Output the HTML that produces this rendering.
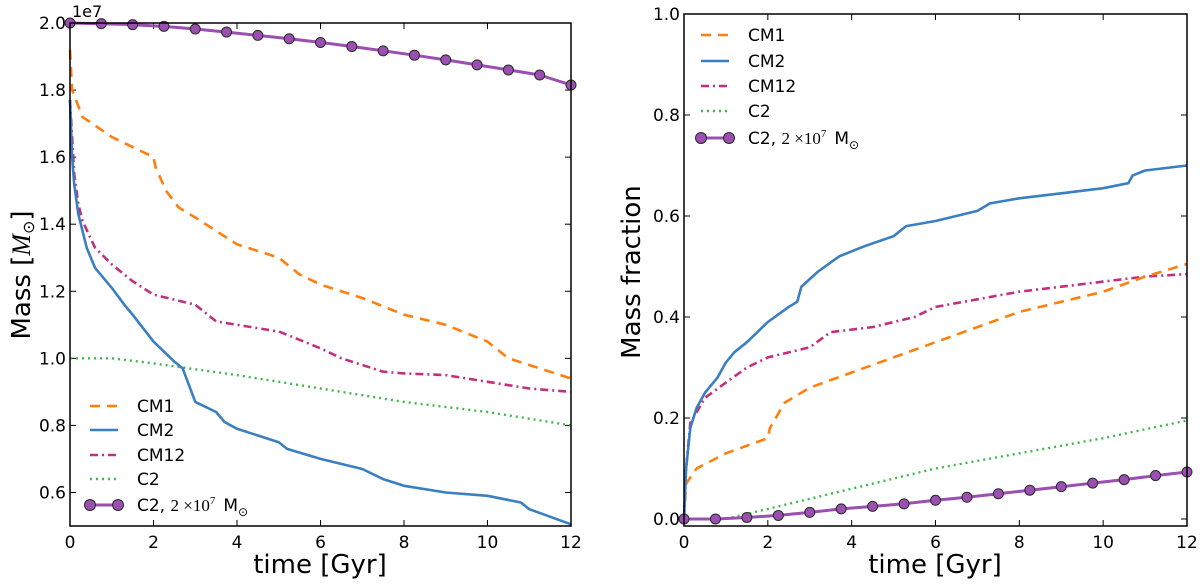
<!DOCTYPE html>
<html><head><meta charset="utf-8"><style>
body{margin:0;background:#fff;font-family:"DejaVu Sans","Liberation Sans",sans-serif}
svg text{font-family:"DejaVu Sans","Liberation Sans",sans-serif}
</style></head><body>
<svg id="c" width="1200" height="583" xmlns="http://www.w3.org/2000/svg"></svg>
<script>
const ticksX=[0,2,4,6,8,10,12];
const ticksL=[0.6,0.8,1.0,1.2,1.4,1.6,1.8,2.0];
const ticksR=[0.0,0.2,0.4,0.6,0.8,1.0];
const markT=[0,0.75,1.5,2.25,3,3.75,4.5,5.25,6,6.75,7.5,8.25,9,9.75,10.5,11.25,12];
// Left panel (Mass, 1e7)
const lCM1t=[0,0.05,0.3,1,2,2.05,2.3,2.6,3,3.5,4,5,5.5,6,7,8,9,10,10.5,11,12];
const lCM1v=[1.92,1.8,1.72,1.66,1.6,1.57,1.5,1.45,1.42,1.38,1.34,1.3,1.25,1.22,1.18,1.13,1.1,1.05,1.0,0.98,0.94];
const lCM2t=[0,0.05,0.1,0.2,0.4,0.6,1,1.3,1.5,2,2.5,2.7,3,3.5,3.7,4,4.5,5,5.2,6,7,7.5,8,9,10,10.8,11,12];
const lCM2v=[1.77,1.6,1.52,1.43,1.33,1.27,1.21,1.16,1.13,1.05,0.99,0.97,0.87,0.84,0.81,0.79,0.77,0.75,0.73,0.7,0.67,0.64,0.62,0.6,0.59,0.57,0.55,0.505];
const lCM12t=[0,0.1,0.2,0.3,0.6,1,1.5,2,3,3.5,4.5,5,6,6.5,7,7.5,8,9,10,11,12];
const lCM12v=[1.77,1.55,1.46,1.41,1.33,1.28,1.23,1.19,1.16,1.11,1.09,1.08,1.03,1.0,0.98,0.96,0.955,0.95,0.93,0.91,0.9];
const lC2t=[0,1,2,4,6,8,10,12];
const lC2v=[1.0,1.0,0.985,0.95,0.91,0.87,0.84,0.8];
const lBigV=[2.0,1.998,1.995,1.99,1.982,1.973,1.963,1.953,1.942,1.93,1.917,1.904,1.89,1.875,1.86,1.845,1.815];
// Right panel (mass fraction)
const rCM1t=[0,0.05,0.3,1,2,2.05,2.4,3,4,5,6,7,8,9,10,11,12];
const rCM1v=[0,0.07,0.1,0.13,0.16,0.18,0.23,0.26,0.29,0.32,0.35,0.38,0.41,0.43,0.45,0.48,0.505];
const rCM2t=[0,0.05,0.15,0.3,0.5,0.8,1,1.2,1.5,2,2.5,2.7,2.8,3.2,3.7,4.3,5,5.3,6,7,7.3,8,9,10,10.6,10.7,11,12];
const rCM2v=[0,0.1,0.18,0.22,0.25,0.28,0.31,0.33,0.35,0.39,0.42,0.43,0.46,0.49,0.52,0.54,0.56,0.58,0.59,0.61,0.625,0.635,0.645,0.655,0.665,0.68,0.69,0.7];
const rCM12t=[0,0.05,0.15,0.5,1,1.5,2,3,3.5,4.5,5.5,6,7,8,9,10,11,12];
const rCM12v=[0,0.1,0.19,0.24,0.27,0.3,0.32,0.34,0.37,0.38,0.4,0.42,0.435,0.45,0.46,0.47,0.48,0.485];
const rC2t=[0,1,2,4,6,8,10,12];
const rC2v=[0,0,0.02,0.06,0.1,0.13,0.16,0.195];
const rBigV=[0,0,0.003,0.007,0.013,0.02,0.025,0.03,0.037,0.043,0.05,0.057,0.064,0.071,0.078,0.086,0.093];

const NS="http://www.w3.org/2000/svg",svg=document.getElementById('c');
function mk(tag,at,parent){const e=document.createElementNS(NS,tag);for(const k in at)e.setAttribute(k,at[k]);(parent||svg).appendChild(e);return e;}
const L={x0:70,x1:571,y0:526,y1:23,vmin:0.5,vmax:2.0};
const R={x0:684,x1:1187,y0:526,y1:14,vmin:-0.0139,vmax:1.0};
function sx(p,t){return p.x0+(t/12)*(p.x1-p.x0);}
function sy(p,v){return p.y0-(v-p.vmin)/(p.vmax-p.vmin)*(p.y0-p.y1);}
const styles={
 cm1:{stroke:'#ff7f0e',dash:'10,7',w:2.6},
 cm2:{stroke:'#3a7fc1',dash:'',w:2.6},
 cm12:{stroke:'#c0307f',dash:'8,4,2,4',w:2.6},
 c2:{stroke:'#3cb84a',dash:'2,4',w:2.4},
 big:{stroke:'#9b4fb0',dash:'',w:3}
};
function line(p,ts,vs,st,name){
 const d=ts.map((t,i)=>(i?'L':'M')+sx(p,t).toFixed(1)+','+sy(p,vs[i]).toFixed(1)).join('');
 const e=mk('path',{d:d,fill:'none',stroke:st.stroke,'stroke-width':st.w,'stroke-dasharray':st.dash,'stroke-linejoin':'round'});
 
 
}
function markers(p,vs,name){
 const g=mk('g',{});
 
 
 vs.forEach((v,i)=>{mk('circle',{cx:sx(p,markT[i]),cy:sy(p,v),r:5,fill:'#9b4fb0',stroke:'#2a2a2a','stroke-width':1},g);});
}
function axes(p,ticksY,fmt,prefix){
 const g=mk('g',{});
 
 
 ticksX.forEach(t=>{const x=sx(p,t);
  mk('line',{x1:x,x2:x,y1:p.y0,y2:p.y0-6,stroke:'#000'},g);mk('line',{x1:x,x2:x,y1:p.y1,y2:p.y1+6,stroke:'#000'},g);
  const tx=mk('text',{x:x,y:p.y0+22,'text-anchor':'middle','font-size':17},g);tx.textContent=t;});
 ticksY.forEach(v=>{const y=sy(p,v);
  mk('line',{x1:p.x0,x2:p.x0+6,y1:y,y2:y,stroke:'#000'},g);mk('line',{x1:p.x1,x2:p.x1-6,y1:y,y2:y,stroke:'#000'},g);
  const tx=mk('text',{x:p.x0-4,y:y+6,'text-anchor':'end','font-size':17},g);tx.textContent=fmt(v);});
}
function frame(p,prefix){const r=mk('rect',{x:p.x0,y:p.y1,width:p.x1-p.x0,height:p.y0-p.y1,fill:'none',stroke:'#000','stroke-width':1.5});
 }

axes(L,ticksL,v=>v.toFixed(1),'left');
axes(R,ticksR,v=>v.toFixed(1),'right');
line(L,lC2t,lC2v,styles.c2,'left-c2-line');
line(L,lCM12t,lCM12v,styles.cm12,'left-cm12-line');
line(L,lCM1t,lCM1v,styles.cm1,'left-cm1-line');
line(L,lCM2t,lCM2v,styles.cm2,'left-cm2-line');
line(L,markT,lBigV,styles.big,'left-c2-big-line');
markers(L,lBigV,'left-c2-big-markers');
line(R,rC2t,rC2v,styles.c2,'right-c2-line');
line(R,rCM12t,rCM12v,styles.cm12,'right-cm12-line');
line(R,rCM1t,rCM1v,styles.cm1,'right-cm1-line');
line(R,rCM2t,rCM2v,styles.cm2,'right-cm2-line');
line(R,markT,rBigV,styles.big,'right-c2-big-line');
markers(R,rBigV,'right-c2-big-markers');
frame(L,'left');frame(R,'right');

function legend(x,ys,prefix){
 const items=[['cm1','CM1'],['cm2','CM2'],['cm12','CM12'],['c2','C2'],['big','C2, ']];
 const g=mk('g',{});
 
 
 items.forEach((it,i)=>{const st=styles[it[0]],y=ys[i];
  mk('line',{x1:x,x2:x+28,y1:y,y2:y,stroke:st.stroke,'stroke-width':st.w,'stroke-dasharray':st.dash},g);
  if(it[0]==='big'){mk('circle',{cx:x,cy:y,r:5.5,fill:'#9b4fb0',stroke:'#2a2a2a'},g);mk('circle',{cx:x+28,cy:y,r:5.5,fill:'#9b4fb0',stroke:'#2a2a2a'},g);}
  const t=mk('text',{x:x+47,y:y+6,'font-size':17},g);t.textContent=it[1];
  if(it[0]==='big'){
   const a=mk('tspan',{'font-family':'Liberation Serif, serif','font-size':17},t);a.textContent='2 ×10';
   const b=mk('tspan',{dy:-7,'font-size':11,'font-family':'Liberation Serif, serif'},t);b.textContent='7';
   const c=mk('tspan',{dy:7,dx:8},t);c.textContent='M';
   const d=mk('tspan',{dy:5,'font-size':12},t);d.textContent='⊙';}
 });
}
legend(90,[406,430,455,479,505],'left');
legend(701,[35,61,86,111,138],'right');

function txt(x,y,s,size,name,rot){const t=mk('text',{x:x,y:y,'font-size':size,'text-anchor':'middle'});t.textContent=s;
 if(rot)t.setAttribute('transform','rotate(-90 '+x+' '+y+')');
 return t;}
txt(320,573,'time [Gyr]',26,'left-x-axis-title');
txt(935,573,'time [Gyr]',26,'right-x-axis-title');
const yl=txt(30,275,'Mass [',26,'left-y-axis-title',true);
const i1=mk('tspan',{'font-family':'Liberation Serif, serif','font-style':'italic'},yl);i1.textContent='M';
const i2=mk('tspan',{dy:4,'font-size':16},yl);i2.textContent='⊙';
const i3=mk('tspan',{dy:-4},yl);i3.textContent=']';
txt(640,272,'Mass fraction',26,'right-y-axis-title',true);
const off=mk('text',{x:72,y:17,'font-size':16});off.textContent='1e7';


</script>
</body></html>
